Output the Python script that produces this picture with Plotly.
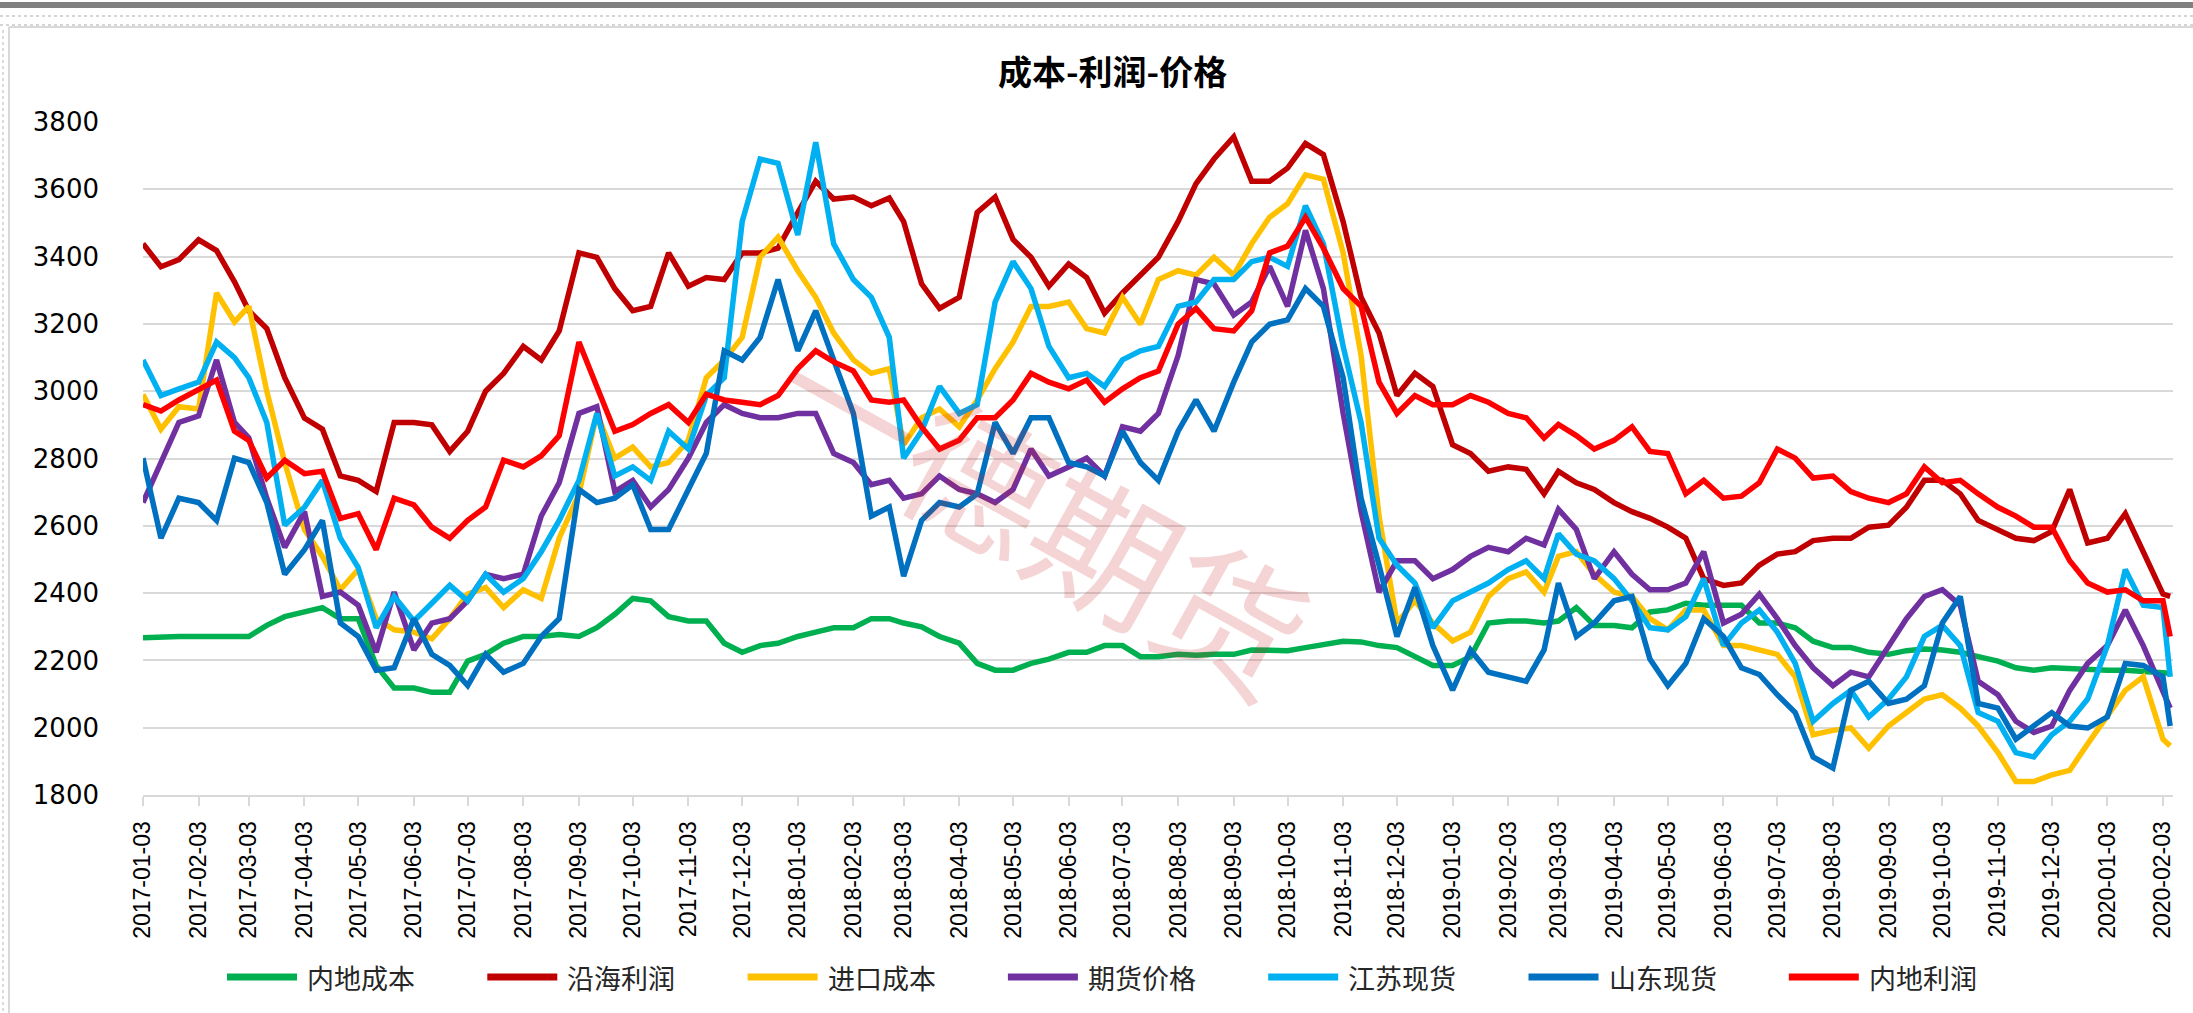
import plotly.graph_objects as go

# ---------------- data ----------------
MONTHS = ["2017-01", "2017-02", "2017-03", "2017-04", "2017-05", "2017-06",
          "2017-07", "2017-08", "2017-09", "2017-10", "2017-11", "2017-12",
          "2018-01", "2018-02", "2018-03", "2018-04", "2018-05", "2018-06",
          "2018-07", "2018-08", "2018-09", "2018-10", "2018-11", "2018-12",
          "2019-01", "2019-02", "2019-03", "2019-04", "2019-05", "2019-06",
          "2019-07", "2019-08", "2019-09", "2019-10", "2019-11", "2019-12",
          "2020-01"]
SAMPLE_DAYS = ["03", "13", "23"]
DATES = [f"{m}-{d}" for m in MONTHS for d in SAMPLE_DAYS] + ["2020-02-03", "2020-02-07"]

TICK_LABELS = ["2017-01-03", "2017-02-03", "2017-03-03", "2017-04-03", "2017-05-03",
               "2017-06-03", "2017-07-03", "2017-08-03", "2017-09-03", "2017-10-03",
               "2017-11-03", "2017-12-03", "2018-01-03", "2018-02-03", "2018-03-03",
               "2018-04-03", "2018-05-03", "2018-06-03", "2018-07-03", "2018-08-03",
               "2018-09-03", "2018-10-03", "2018-11-03", "2018-12-03", "2019-01-03",
               "2019-02-03", "2019-03-03", "2019-04-03", "2019-05-03", "2019-06-03",
               "2019-07-03", "2019-08-03", "2019-09-03", "2019-10-03", "2019-11-03",
               "2019-12-03", "2020-01-03", "2020-02-03"]

inland_cost = [
    2267, 2271, 2271, 2271, 2271, 2271, 2271, 2304, 2330, 2344, 2357, 2324,
    2324, 2185, 2118, 2118, 2105, 2105, 2198, 2218, 2251, 2271, 2271, 2277,
    2271, 2297, 2337, 2384, 2377, 2330, 2317, 2317, 2251, 2224, 2244, 2251,
    2271, 2284, 2297, 2297, 2324, 2324, 2311, 2300, 2271, 2251, 2191, 2171,
    2171, 2191, 2204, 2224, 2224, 2244, 2244, 2211, 2211, 2218, 2215, 2218,
    2218, 2231, 2229, 2229, 2238, 2247, 2257, 2255, 2244, 2238, 2211, 2185,
    2185, 2211, 2311, 2317, 2317, 2311, 2317, 2357, 2304, 2304, 2297, 2344,
    2350, 2370, 2364, 2364, 2364, 2311, 2311, 2297, 2257, 2238, 2238, 2224,
    2218, 2229, 2234, 2231, 2224, 2211, 2198, 2178, 2171, 2178, 2175, 2171,
    2171, 2171, 2167, 2162, 2162]

coastal_profit = [
    3438, 3370, 3391, 3450, 3418, 3325, 3239, 3186, 3040, 2920, 2887, 2748,
    2735, 2702, 2907, 2907, 2900, 2821, 2881, 3000, 3053, 3133, 3093, 3179,
    3411, 3398, 3305, 3239, 3252, 3411, 3312, 3338, 3332, 3411, 3411, 3425,
    3531, 3624, 3571, 3577, 3551, 3574, 3504, 3319, 3246, 3279, 3531, 3577,
    3451, 3398, 3312, 3378, 3338, 3232, 3292, 3345, 3398, 3504, 3617, 3690,
    3756, 3624, 3624, 3663, 3736, 3703, 3504, 3279, 3173, 2987, 3053, 3014,
    2841, 2815, 2762, 2775, 2768, 2695, 2762, 2728, 2708, 2669, 2642, 2622,
    2596, 2563, 2443, 2423, 2430, 2483, 2516, 2523, 2556, 2563, 2563, 2596,
    2602, 2655, 2735, 2735, 2695, 2616, 2589, 2563, 2556, 2583, 2708, 2549,
    2563, 2636, 2523, 2397, 2390]

import_cost = [
    2990, 2887, 2954, 2947, 3292, 3206, 3252, 3000, 2788, 2589, 2509, 2410,
    2470, 2324, 2291, 2284, 2264, 2324, 2397, 2417, 2357, 2410, 2384, 2563,
    2695, 2934, 2801, 2834, 2775, 2788, 2854, 3040, 3093, 3160, 3398, 3458,
    3358, 3279, 3173, 3093, 3053, 3067, 2841, 2921, 2947, 2894, 2974, 3067,
    3146, 3252, 3252, 3265, 3186, 3173, 3279, 3199, 3332, 3358, 3345, 3398,
    3345, 3438, 3517, 3557, 3643, 3630, 3411, 3106, 2629, 2311, 2377, 2311,
    2258, 2284, 2390, 2443, 2463, 2403, 2509, 2523, 2456, 2403, 2390, 2324,
    2291, 2350, 2350, 2244, 2244, 2231, 2218, 2151, 1979, 1992, 1999, 1939,
    2005, 2045, 2085, 2098, 2058, 2005, 1926, 1840, 1840, 1860, 1873, 1952,
    2032, 2111, 2151, 1966, 1946]

futures_price = [
    2669, 2788, 2907, 2927, 3093, 2907, 2861, 2682, 2536, 2642, 2390, 2403,
    2364, 2224, 2403, 2231, 2311, 2324, 2377, 2456, 2443, 2456, 2629, 2728,
    2934, 2954, 2702, 2735, 2656, 2708, 2801, 2907, 2960, 2934, 2921, 2921,
    2934, 2934, 2815, 2788, 2722, 2735, 2682, 2695, 2748, 2708, 2695, 2669,
    2708, 2828, 2748, 2775, 2801, 2748, 2894, 2881, 2934, 3106, 3332, 3319,
    3226, 3265, 3371, 3252, 3478, 3305, 2934, 2642, 2403, 2496, 2496, 2443,
    2470, 2509, 2536, 2523, 2563, 2543, 2649, 2589, 2443, 2523, 2456, 2410,
    2410, 2430, 2523, 2311, 2337, 2397, 2324, 2244, 2178, 2125, 2165, 2151,
    2244, 2324, 2390, 2410, 2364, 2138, 2098, 2019, 1986, 2005, 2111, 2191,
    2244, 2350, 2244, 2111, 2058]

jiangsu_spot = [
    3093, 2987, 3007, 3027, 3146, 3100, 3040, 2907, 2602, 2655, 2735, 2563,
    2476, 2297, 2390, 2317, 2370, 2423, 2377, 2456, 2403, 2443, 2523, 2616,
    2735, 2934, 2748, 2775, 2735, 2881, 2828, 2987, 3040, 3504, 3690, 3677,
    3464, 3740, 3438, 3332, 3279, 3160, 2801, 2881, 3014, 2934, 2960, 3265,
    3385, 3305, 3133, 3040, 3053, 3014, 3093, 3120, 3133, 3252, 3265, 3332,
    3332, 3385, 3398, 3371, 3551, 3438, 3133, 2907, 2563, 2483, 2430, 2297,
    2377, 2403, 2430, 2470, 2496, 2443, 2576, 2516, 2496, 2443, 2377, 2297,
    2291, 2330, 2443, 2244, 2311, 2350, 2284, 2191, 2019, 2072, 2111, 2032,
    2085, 2151, 2271, 2304, 2244, 2045, 2019, 1926, 1913, 1979, 2019, 2085,
    2244, 2470, 2364, 2357, 2151]

shandong_spot = [
    2801, 2563, 2682, 2669, 2616, 2801, 2788, 2669, 2456, 2529, 2616, 2311,
    2271, 2171, 2178, 2324, 2218, 2185, 2125, 2218, 2165, 2191, 2271, 2324,
    2708, 2669, 2682, 2722, 2589, 2589, 2708, 2815, 3120, 3093, 3160, 3332,
    3120, 3239, 3093, 2934, 2629, 2656, 2450, 2616, 2669, 2656, 2695, 2907,
    2815, 2921, 2921, 2788, 2775, 2748, 2881, 2788, 2735, 2881, 2974, 2881,
    3027, 3146, 3199, 3212, 3305, 3252, 3040, 2682, 2483, 2271, 2417, 2244,
    2112, 2231, 2165, 2151, 2138, 2231, 2430, 2271, 2311, 2377, 2390, 2204,
    2125, 2191, 2324, 2271, 2178, 2158, 2098, 2045, 1913, 1880, 2111, 2138,
    2072, 2085, 2125, 2311, 2390, 2072, 2058, 1966, 2005, 2045, 2005, 1999,
    2032, 2191, 2185, 2151, 2005]

inland_profit = [
    2960, 2941, 2974, 3007, 3033, 2881, 2854, 2742, 2795, 2755, 2762, 2622,
    2636, 2529, 2682, 2662, 2596, 2563, 2616, 2656, 2795, 2775, 2808, 2868,
    3146, 3013, 2881, 2901, 2934, 2960, 2907, 2991, 2974, 2967, 2960, 2987,
    3067, 3120, 3087, 3060, 2974, 2967, 2974, 2894, 2828, 2854, 2921, 2921,
    2974, 3053, 3027, 3007, 3033, 2967, 3007, 3040, 3060, 3199, 3246, 3186,
    3179, 3239, 3411, 3431, 3517, 3425, 3305, 3252, 3027, 2934, 2987, 2960,
    2960, 2987, 2967, 2934, 2921, 2861, 2901, 2868, 2828, 2854, 2894, 2821,
    2815, 2695, 2735, 2682, 2688, 2728, 2828, 2801, 2742, 2748, 2702, 2682,
    2669, 2695, 2775, 2728, 2735, 2695, 2655, 2629, 2596, 2596, 2496, 2430,
    2403, 2410, 2377, 2377, 2271]

SERIES = [
    ("内地成本", inland_cost, "#00B050"),
    ("沿海利润", coastal_profit, "#C00000"),
    ("进口成本", import_cost, "#FFC000"),
    ("期货价格", futures_price, "#7030A0"),
    ("江苏现货", jiangsu_spot, "#00B0F0"),
    ("山东现货", shandong_spot, "#0070C0"),
    ("内地利润", inland_profit, "#FF0000"),
]

# ---------------- layout geometry (pixels) ----------------
W, H = 2193, 1013
PL, PR, PT, PB = 143, 2173, 122, 795


def px(x):
    return (x - PL) / (PR - PL)


def py(y):
    return (PB - y) / (PB - PT)


fig = go.Figure()
for name, vals, color in SERIES:
    fig.add_trace(go.Scatter(x=DATES, y=vals, mode="lines", name=name,
                             line=dict(color=color, width=5.5),
                             showlegend=False))

shapes = []
annotations = []

# custom legend (long line samples like the original)
LEG_Y = 977
for i, (name, vals, color) in enumerate(SERIES):
    x0 = 227 + i * 260.3
    shapes.append(dict(type="line", xref="paper", yref="paper",
                       x0=px(x0), x1=px(x0 + 70), y0=py(LEG_Y), y1=py(LEG_Y),
                       line=dict(color=color, width=7)))
    annotations.append(dict(xref="paper", yref="paper", x=px(x0 + 78), y=py(LEG_Y),
                            xanchor="left", yanchor="middle", showarrow=False,
                            text=name,
                            font=dict(family="Noto Sans CJK SC", size=27, color="#262626")))

# watermark
annotations.append(dict(xref="paper", yref="paper", x=px(1044), y=py(508),
                        xanchor="center", yanchor="middle", showarrow=False,
                        text="一德期货", textangle=29,
                        font=dict(family="Noto Sans CJK SC", size=145,
                                  color="rgba(200,40,40,0.2)")))

# title
annotations.append(dict(xref="paper", yref="paper", x=px(1112), y=py(70),
                        xanchor="center", yanchor="middle", showarrow=False,
                        text="<b>成本-利润-价格</b>",
                        font=dict(family="Noto Sans CJK SC", size=34, color="#000000")))

# frame decorations of the original screenshot
shapes.append(dict(type="rect", xref="paper", yref="paper", layer="below",
                   x0=px(0), x1=px(W), y0=py(2), y1=py(8),
                   fillcolor="#808080", line=dict(width=0)))
for yy in (16, 25):
    shapes.append(dict(type="line", xref="paper", yref="paper",
                       x0=px(0), x1=px(W), y0=py(yy), y1=py(yy),
                       line=dict(color="#C8C8C8", width=1.5, dash="dot")))
shapes.append(dict(type="line", xref="paper", yref="paper",
                   x0=px(9), x1=px(W), y0=py(27), y1=py(27),
                   line=dict(color="#D9D9D9", width=2)))
shapes.append(dict(type="line", xref="paper", yref="paper",
                   x0=px(9), x1=px(9), y0=py(27), y1=py(H),
                   line=dict(color="#D9D9D9", width=2)))
shapes.append(dict(type="line", xref="paper", yref="paper",
                   x0=px(3), x1=px(3), y0=py(30), y1=py(H),
                   line=dict(color="#D0D0D0", width=1.5, dash="dot")))

fig.update_layout(
    width=W, height=H,
    margin=dict(l=PL, r=W - PR, t=PT, b=H - PB, autoexpand=False),
    paper_bgcolor="white", plot_bgcolor="white",
    showlegend=False,
    hovermode=False,
    shapes=shapes,
    annotations=annotations,
    xaxis=dict(type="date", range=["2017-01-03", "2020-02-08 14:00"],
               tickmode="array", tickvals=TICK_LABELS, ticktext=TICK_LABELS,
               tickangle=-90, ticks="outside", ticklen=9, tickwidth=2,
               tickcolor="#D9D9D9", showline=True, linecolor="#D9D9D9",
               linewidth=2, showgrid=False, zeroline=False,
               ticklabelstandoff=6,
               tickfont=dict(family="Liberation Sans, Arial", size=23, color="#000000")),
    yaxis=dict(range=[1800, 3800], tick0=1800, dtick=200, showgrid=True,
               gridcolor="#D9D9D9", gridwidth=2, zeroline=False, showline=False,
               ticks="", ticklabelstandoff=43,
               tickfont=dict(family="DejaVu Sans", size=26, color="#000000")),
)

fig.write_html("out.html",
               config={"displayModeBar": False, "staticPlot": True},
               post_script="document.body.style.margin='0';"
                           "document.body.style.overflow='hidden';")
